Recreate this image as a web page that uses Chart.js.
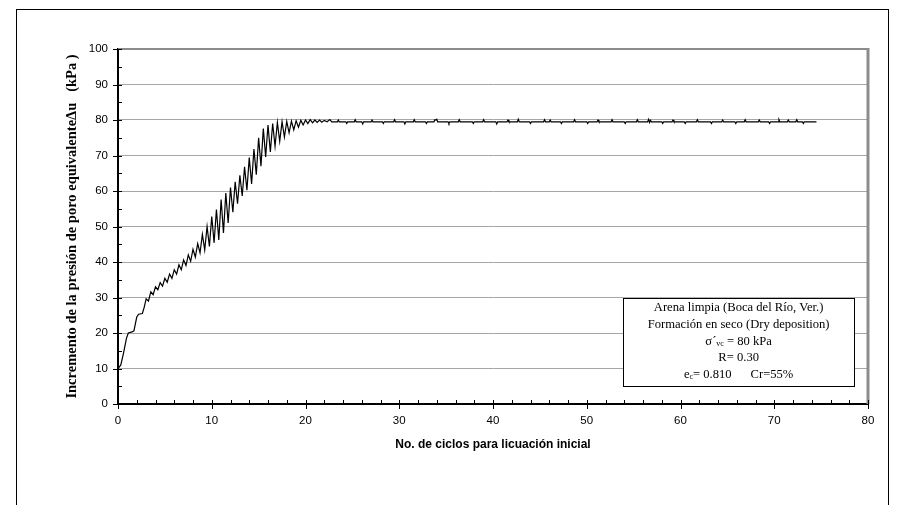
<!DOCTYPE html>
<html>
<head>
<meta charset="utf-8">
<script src="https://cdn.jsdelivr.net/npm/chart.js@4"></script>
<style>
  html, body { margin: 0; padding: 0; background: #fff; }
  #wrap { width: 907px; height: 505px; }
</style>
</head>
<body>
<div id="wrap"><canvas id="c" width="907" height="505"></canvas></div>
<script>
// Initial build-up of pore pressure (first cycles)
const riseCycles   = [0, 0.02, 0.3, 0.6, 0.9, 1.1, 1.5, 1.7, 2.0, 2.2, 2.6, 2.8];
const risePressure = [0, 10.0, 11.0, 14.5, 18.5, 20.0, 20.3, 20.6, 24.5, 25.3, 25.5, 27.3];

// Cyclic oscillation stage (peaks and troughs)
const cycCycles = [3.00, 3.25, 3.50, 3.75, 4.00, 4.25, 4.50, 4.75, 5.00, 5.25, 5.50, 5.75,
  6.00, 6.25, 6.50, 6.75, 7.00, 7.25, 7.50, 7.75, 8.00, 8.25, 8.50, 8.75,
  9.00, 9.25, 9.50, 9.75, 10.00, 10.25, 10.50, 10.75, 11.00, 11.25, 11.50, 11.75,
  12.00, 12.25, 12.50, 12.75, 13.00, 13.25, 13.50, 13.75, 14.00, 14.25, 14.50, 14.75,
  15.00, 15.25, 15.50, 15.75, 16.00, 16.25, 16.50, 16.75, 17.00, 17.25, 17.50, 17.75,
  18.00, 18.25, 18.50, 18.75, 19.00, 19.25, 19.50, 19.75, 20.00, 20.25, 20.50, 20.75,
  21.00, 21.25, 21.50, 21.75, 22.00];
const cycPressure = [29.6, 29.0, 31.6, 30.8, 33.0, 32.2, 34.2, 33.2, 35.4, 34.3, 36.6, 35.4,
  37.8, 36.6, 39.2, 37.8, 40.6, 39.0, 42.0, 40.2, 43.6, 41.4, 45.2, 42.6,
  47.8, 43.4, 50.0, 44.4, 52.8, 45.4, 54.8, 46.2, 57.6, 48.2, 59.4, 51.0,
  61.0, 54.0, 62.6, 56.4, 64.4, 58.6, 66.8, 60.2, 69.4, 62.0, 71.8, 64.6,
  75.0, 67.0, 77.6, 69.6, 78.6, 71.0, 79.0, 72.6, 79.3, 74.0, 79.5, 75.2,
  79.6, 76.4, 79.7, 77.2, 79.8, 78.0, 79.9, 78.6, 80.0, 79.0, 80.1, 79.2,
  80.0, 79.3, 80.0, 79.4, 79.9];

// Liquefied plateau: steady level with short spikes
const plateauCycles = [22.3, 22.6, 22.8, 23.4, 23.5, 23.6, 24.3, 24.4, 24.5, 25.2, 25.3, 25.4,
  26.0, 26.1, 26.2, 27.0, 27.1, 27.2, 28.2, 28.3, 28.4, 29.4, 29.5, 29.6,
  30.5, 30.6, 30.7, 31.5, 31.6, 31.7, 32.8, 32.9, 33.0, 33.7, 33.8, 33.9, 34.0, 34.1,
  35.2, 35.3, 35.4, 36.3, 36.4, 36.5, 37.8, 37.9, 38.0, 38.9, 39.0, 39.1,
  40.3, 40.4, 40.5, 41.5, 41.6, 41.7, 42.6, 42.7, 42.8, 43.9, 44.0, 44.1,
  45.4, 45.5, 45.6, 46.0, 46.1, 46.2, 47.2, 47.3, 47.4, 48.6, 48.7, 48.8,
  50.0, 50.1, 50.2, 51.1, 51.2, 51.3, 52.6, 52.7, 52.8, 54.0, 54.1, 54.2,
  55.3, 55.4, 55.5, 56.5, 56.6, 56.7, 56.8, 56.9, 58.0, 58.1, 58.2, 59.1, 59.2, 59.3,
  60.4, 60.5, 60.6, 61.7, 61.8, 61.9, 63.2, 63.3, 63.4, 64.4, 64.5, 64.6,
  65.8, 65.9, 66.0, 66.8, 66.9, 67.0, 68.3, 68.4, 68.5, 69.4, 69.5, 69.6,
  70.4, 70.5, 70.6, 71.4, 71.5, 71.6, 72.3, 72.4, 72.5, 73.0, 73.1, 73.2, 74.5];
const plateauPressure = [79.5, 80.1, 79.5, 79.5, 80.0, 79.5, 79.5, 79.0, 79.5, 79.5, 80.1, 79.5,
  79.5, 78.9, 79.5, 79.5, 80.0, 79.5, 79.5, 79.0, 79.5, 79.5, 80.1, 79.5,
  79.5, 78.9, 79.5, 79.5, 80.1, 79.5, 79.5, 79.0, 79.5, 79.5, 80.1, 80.0, 80.2, 79.5,
  79.5, 79.0, 79.5, 79.5, 80.1, 79.5, 79.5, 79.0, 79.5, 79.5, 80.1, 79.5,
  79.5, 78.9, 79.5, 79.5, 80.0, 79.5, 79.5, 80.2, 79.5, 79.5, 79.0, 79.5,
  79.5, 80.1, 79.5, 79.5, 80.0, 79.5, 79.5, 79.0, 79.5, 79.5, 80.1, 79.5,
  79.5, 79.0, 79.5, 79.5, 80.0, 79.5, 79.5, 80.1, 79.5, 79.5, 79.0, 79.5,
  79.5, 80.1, 79.5, 79.5, 80.2, 79.3, 79.9, 79.5, 79.5, 79.0, 79.5, 79.5, 80.0, 79.5,
  79.5, 79.0, 79.5, 79.5, 80.1, 79.5, 79.5, 79.0, 79.5, 79.5, 80.0, 79.5,
  79.5, 79.0, 79.5, 79.5, 80.1, 79.5, 79.5, 80.0, 79.5, 79.5, 79.0, 79.5,
  79.5, 80.1, 79.5, 79.5, 80.0, 79.5, 79.5, 80.1, 79.5, 79.5, 79.0, 79.5, 79.5];

const xTickValues = [0, 10, 20, 30, 40, 50, 60, 70, 80];
const yTickValues = [0, 10, 20, 30, 40, 50, 60, 70, 80, 90, 100];

const infoLines = [
  'Arena limpia (Boca del Río, Ver.)',
  'Formación en seco (Dry deposition)',
  'σ´vc = 80 kPa',
  'R= 0.30',
  'ec= 0.810     Cr=55%'
];

const cycles = riseCycles.concat(cycCycles, plateauCycles);
const pressure = risePressure.concat(cycPressure, plateauPressure);
const points = cycles.map((c, i) => ({ x: c, y: pressure[i] }));

// Page frame and white background
const framePlugin = {
  id: 'frame',
  beforeDraw(chart) {
    const ctx = chart.ctx;
    ctx.save();
    ctx.fillStyle = '#fff';
    ctx.fillRect(0, 0, chart.width, chart.height);
    ctx.strokeStyle = '#000';
    ctx.lineWidth = 1;
    ctx.strokeRect(16.5, 9.5, 872, 600);
    ctx.restore();
  },
  beforeDatasetsDraw(chart) {
    const { ctx, chartArea: a } = chart;
    ctx.save();
    ctx.strokeStyle = '#8c8c8c';
    ctx.lineWidth = 2;
    ctx.beginPath();
    ctx.moveTo(a.left, a.top);
    ctx.lineTo(a.right, a.top);
    ctx.stroke();
    ctx.lineWidth = 3;
    ctx.beginPath();
    ctx.moveTo(a.right, a.top - 1);
    ctx.lineTo(a.right, a.bottom);
    ctx.stroke();
    ctx.restore();
  }
};

// Minor/major tick marks on both axes
const ticksPlugin = {
  id: 'tickMarks',
  afterDraw(chart) {
    const { ctx, chartArea: a, scales } = chart;
    ctx.save();
    ctx.strokeStyle = '#000';
    ctx.lineWidth = 1;
    ctx.beginPath();
    for (let v = 0; v <= 100; v += 5) {
      const py = Math.round(scales.y.getPixelForValue(v)) + 0.5;
      const major = v % 10 === 0;
      ctx.moveTo(a.left - (major ? 5 : 0), py);
      ctx.lineTo(a.left + 4, py);
    }
    for (let v = 0; v <= 80; v += 2) {
      const px = Math.round(scales.x.getPixelForValue(v)) + 0.5;
      const major = v % 10 === 0;
      ctx.moveTo(px, a.bottom - 4);
      ctx.lineTo(px, a.bottom + (major ? 5 : 0));
    }
    ctx.stroke();
    ctx.restore();
  }
};

// Test description box
const infoPlugin = {
  id: 'infoBox',
  afterDraw(chart) {
    const { ctx, scales } = chart;
    const x0 = scales.x.getPixelForValue(53.9);
    const x1 = scales.x.getPixelForValue(78.5);
    const y0 = scales.y.getPixelForValue(29.9);
    const y1 = scales.y.getPixelForValue(5.1);
    ctx.save();
    ctx.fillStyle = '#fff';
    ctx.fillRect(x0, y0, x1 - x0, y1 - y0);
    ctx.strokeStyle = '#000';
    ctx.lineWidth = 1;
    ctx.strokeRect(Math.round(x0) + 0.5, Math.round(y0) + 0.5, Math.round(x1 - x0), Math.round(y1 - y0));
    const cx = (x0 + x1) / 2;
    const font = '12.6px "Liberation Serif", "Times New Roman", serif';
    const small = '8px "Liberation Serif", "Times New Roman", serif';
    ctx.fillStyle = '#000';
    ctx.textBaseline = 'middle';
    ctx.textAlign = 'center';
    ctx.font = font;
    const lineY = [y0 + 9.5, y0 + 26.5, y0 + 43.5, y0 + 59.5, y0 + 76.5];
    ctx.fillText(infoLines[0], cx, lineY[0]);
    ctx.fillText(infoLines[1], cx, lineY[1]);
    // lines with subscripts
    const drawRich = (parts, y) => {
      let total = 0;
      parts.forEach(p => { ctx.font = p.sub ? small : font; total += ctx.measureText(p.t).width; });
      let x = cx - total / 2;
      ctx.textAlign = 'left';
      parts.forEach(p => {
        ctx.font = p.sub ? small : font;
        ctx.fillText(p.t, x, y + (p.sub ? 3 : 0));
        x += ctx.measureText(p.t).width;
      });
      ctx.textAlign = 'center';
    };
    drawRich([{ t: 'σ´' }, { t: 'vc', sub: true }, { t: ' = 80 kPa' }], lineY[2]);
    ctx.font = font;
    ctx.fillText(infoLines[3], cx, lineY[3]);
    drawRich([{ t: 'e' }, { t: 'c', sub: true }, { t: '= 0.810      Cr=55%' }], lineY[4]);
    ctx.restore();
  }
};

new Chart(document.getElementById('c'), {
  type: 'scatter',
  data: {
    datasets: [{
      data: points,
      showLine: true,
      borderColor: '#000',
      borderWidth: 1.2,
      pointRadius: 0,
      tension: 0
    }]
  },
  options: {
    responsive: false,
    animation: false,
    layout: { padding: { left: 60, top: 49, right: 39, bottom: 49 } },
    plugins: { legend: { display: false }, tooltip: { enabled: false } },
    scales: {
      x: {
        type: 'linear',
        min: 0, max: 80,
        afterFit(s) { s.height = 52; },
        afterBuildTicks(s) { s.ticks = xTickValues.map(v => ({ value: v })); },
        border: { color: '#000', width: 2 },
        grid: { drawOnChartArea: false, drawTicks: false },
        ticks: {
          padding: 10,
          color: '#000',
          font: { family: '"Liberation Sans", Arial, sans-serif', size: 11.5 }
        },
        title: {
          display: true,
          text: 'No. de ciclos para licuación inicial',
          color: '#000',
          font: { family: '"Liberation Sans", Arial, sans-serif', size: 12, weight: 'bold' }
        }
      },
      y: {
        type: 'linear',
        min: 0, max: 100,
        afterFit(s) { s.width = 58; },
        afterBuildTicks(s) { s.ticks = yTickValues.map(v => ({ value: v })); },
        border: { color: '#000', width: 2 },
        grid: { color: '#a6a6a6', lineWidth: 1, drawTicks: false },
        ticks: {
          padding: 10,
          color: '#000',
          font: { family: '"Liberation Sans", Arial, sans-serif', size: 11.5 }
        },
        title: {
          display: true,
          text: 'Incremento de la presión de poro equivalenteΔu   (kPa )',
          color: '#000',
          font: { family: '"Liberation Serif", "Times New Roman", serif', size: 14.5, weight: 'bold' }
        }
      }
    }
  },
  plugins: [framePlugin, ticksPlugin, infoPlugin]
});
</script>
</body>
</html>
